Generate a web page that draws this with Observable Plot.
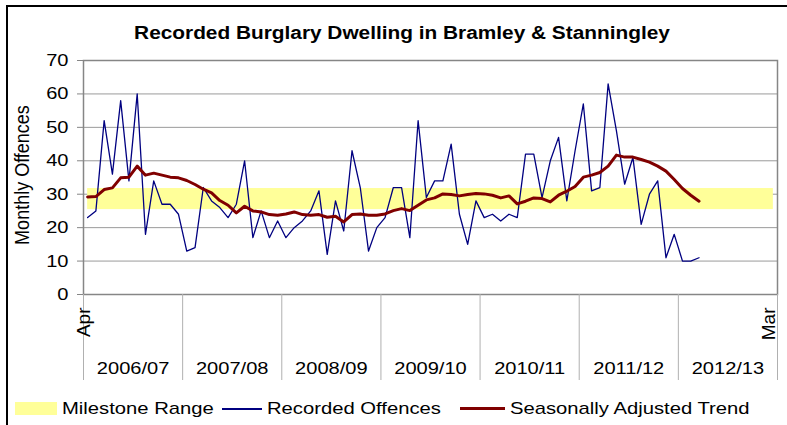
<!DOCTYPE html>
<html><head><meta charset="utf-8">
<script src="https://cdn.jsdelivr.net/npm/d3@7"></script>
<script src="https://cdn.jsdelivr.net/npm/@observablehq/plot@0.6"></script>
<style>
body{margin:0;background:#fff;overflow:hidden}
#wrap{position:relative;width:787px;height:425px;overflow:hidden;font-family:"Liberation Sans",Arial,sans-serif;color:#000;background:#fff}
#border{position:absolute;left:6px;top:5px;width:900px;height:600px;border-left:2px solid #000;border-top:2px solid #000;box-sizing:border-box}
#chart{position:absolute;left:0;top:0}
.title{position:absolute;left:402px;top:24px;font-size:17.5px;line-height:18px;font-weight:bold;white-space:nowrap;transform:translateX(-50%) scaleX(1.19);transform-origin:center}
.ylab{position:absolute;left:22px;top:175px;font-size:18px;line-height:18px;white-space:nowrap;transform:translate(-50%,-50%) rotate(-90deg) scaleY(1.15)}
.leg{position:absolute;top:400px;font-size:17px;line-height:18px;white-space:nowrap;transform:scaleX(1.19);transform-origin:left center}
.sw{position:absolute}
</style>
</head><body>
<div id="wrap">
  <div id="chart"></div>
  <div id="border"></div>
  <div class="title" id="title"></div>
  <div class="ylab" id="ylab"></div>
  <div id="legend"></div>
</div>
<script>
// ---- data ----
const titleText = "Recorded Burglary Dwelling in Bramley & Stanningley";
const yLabel = "Monthly Offences";
const years = ["2006/07","2007/08","2008/09","2009/10","2010/11","2011/12","2012/13"];
const edgeLabels = ["Apr","Mar"];
const yTicks = [0,10,20,30,40,50,60,70];
const milestoneRange = [25.4, 31.7];
// monthly values from Apr 2006 to Jun 2012
const recorded = [23,25,52,36,58,34,60,18,34,27,27,24,13,14,32,28,26,23,27,40,
  17,25,17,22,17,20,22,25,31,12,28,19,43,32,13,20,23,32,32,17,
  52,29,34,34,45,24,15,28,23,24,22,24,23,42,42,29,40,47,28,43,
  57,31,32,63,49,33,41,21,30,34,11,18,10,10,11];
const trend = [29.2,29.3,31.4,31.9,34.9,35.1,38.4,35.7,36.3,35.7,35.1,34.9,34.1,32.9,31.5,30.4,28.1,26.7,24.4,26.4,
  25.0,24.7,23.9,23.7,24.1,24.7,23.9,23.7,23.9,23.1,23.4,21.7,23.9,24.1,23.7,23.7,24.1,25.1,25.7,25.1,
  26.7,28.3,28.9,30.1,29.9,29.5,29.9,30.2,30.1,29.7,28.9,29.5,27.1,27.9,28.9,28.7,27.7,29.7,30.9,32.3,
  35.1,35.7,36.5,38.4,41.7,41.1,41.1,40.4,39.6,38.4,36.9,34.4,31.7,29.7,27.9];
const legendItems = [
  {label:"Milestone Range", kind:"rect", color:"#ffff99", sx:15, tx:62},
  {label:"Recorded Offences", kind:"line", color:"#000080", sx:222, tx:267},
  {label:"Seasonally Adjusted Trend", kind:"line", color:"#800000", sx:460, tx:510}
];

// ---- derived ----
const nMonths = years.length * 12;
const months = recorded.map((v,i)=>({i:i+0.5, recorded:v, trend:trend[i]}));
const band = [{x1:0.5, x2:nMonths-0.5, lo:milestoneRange[0], hi:milestoneRange[1]}];
const boundaries = years.map((_,k)=>k*12).concat([nMonths]);
const yearCenters = years.map((_,k)=>k*12+6);
const edges = [0.5, nMonths-0.5];

const chart = Plot.plot({
  width:787, height:425,
  marginLeft:83, marginRight:10, marginTop:60, marginBottom:131,
  x:{domain:[0,nMonths], axis:null},
  y:{domain:[0,70], axis:null},
  style:{fontFamily:"'Liberation Sans', Arial, sans-serif", fontSize:"17px", color:"#000", background:"transparent", overflow:"visible"},
  marks:[
    Plot.gridY(yTicks.slice(1,-1), {stroke:"#9a9a9a", strokeOpacity:1}),
    Plot.rect(band, {x1:"x1", x2:"x2", y1:"lo", y2:"hi", fill:"#ffff99"}),
    Plot.frame({stroke:"#868686", strokeWidth:1.5}),
    Plot.lineY(months, {x:"i", y:"recorded", stroke:"#000080", strokeWidth:1.3}),
    Plot.lineY(months, {x:"i", y:"trend", stroke:"#800000", strokeWidth:3}),
    Plot.axisY(yTicks, {anchor:"left", tickSize:6, tickPadding:9, stroke:"#868686", fontSize:17}),
    Plot.axisX(boundaries, {anchor:"bottom", tickSize:86, tickFormat:()=>"", stroke:"#b0b0b0"}),
    Plot.axisX(yearCenters, {anchor:"bottom", tickSize:0, tickPadding:67, fontSize:17,
      tickFormat:d=>years[Math.floor(d/12)]}),
    Plot.axisX(edges, {anchor:"bottom", tickSize:0, tickPadding:13, tickRotate:-90, fontSize:19, dx:-4,
      tickFormat:d=>d<1?edgeLabels[0]:edgeLabels[1]})
  ]
});
document.getElementById("chart").appendChild(chart);

// stretch horizontal texts slightly, like the reference rendering
chart.querySelectorAll("text").forEach(t=>{
  const tr = (t.getAttribute("transform")||"") + (t.parentNode.getAttribute && t.parentNode.getAttribute("transform")||"");
  if (tr.includes("rotate")) return;
  if (!t.textContent) return;
  const L = t.getComputedTextLength();
  if (L>0){ t.setAttribute("textLength", (L*1.18).toFixed(1)); t.setAttribute("lengthAdjust","spacingAndGlyphs"); }
});

document.getElementById("title").textContent = titleText;
document.getElementById("ylab").textContent = yLabel;
const leg = document.getElementById("legend");
legendItems.forEach(it=>{
  const s = document.createElement("div");
  s.className = "sw";
  if (it.kind==="rect"){
    Object.assign(s.style,{left:it.sx+"px", top:"402px", width:"42px", height:"13px", background:it.color});
  } else {
    Object.assign(s.style,{left:it.sx+"px", top:(it.color==="#800000"?"407px":"408px"), width:(it.tx-it.sx-5)+"px", height:(it.color==="#800000"?"3px":"1.5px"), background:it.color});
  }
  leg.appendChild(s);
  const l = document.createElement("div");
  l.className = "leg";
  l.style.left = it.tx+"px";
  l.textContent = it.label;
  leg.appendChild(l);
});
</script>
</body></html>
